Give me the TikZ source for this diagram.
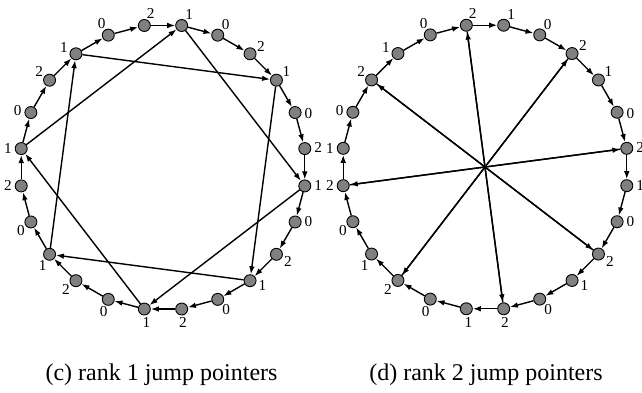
\documentclass[tikz,border=0pt]{standalone}
\usepackage{fontspec}
\setmainfont{Liberation Serif}
\usetikzlibrary{positioning,arrows.meta,calc}

\tikzset{
  elem/.style={circle,draw,fill=gray,minimum size=6pt,inner sep=0pt,line width=0.45pt},
  lbl/.style={inner sep=0pt,font=\fontsize{7.6}{8}\selectfont},
  nxt/.style={-{Latex[length=4pt,width=2.8pt]},line width=0.7pt},
  captxt/.style={inner sep=0pt,font=\fontsize{12}{14}\selectfont}
}

\begin{document}
\begin{tikzpicture}[x=0.5pt,y=0.5pt]
  \useasboundingbox (0,0) rectangle (642,392);

  \coordinate (cc) at (163,224.75);
  \coordinate (dc) at (485,225);

  % the two lists, same labels, label directions set by hand
  \foreach \i/\la in {0/62,1/56,2/53,3/35,4/42,5/-5,6/5,7/0,8/0,9/-32,10/-23,11/-51,
                      12/-85,13/-81,14/-110,15/-139,16/-121,17/-138,18/180,19/180,
                      20/172,21/141,22/153,23/120} {
    \pgfmathtruncatemacro{\lab}{2-mod(\i,3)}
    \node[elem] (c\i) at ($(cc)+({97.5-15*\i}:143)$) {};
    \node[lbl] (lc\i) at ($(c\i)+(\la:6.7pt)$) {\lab};
    \node[elem] (d\i) at ($(dc)+({97.5-15*\i}:143)$) {};
    \node[lbl] (ld\i) at ($(d\i)+(\la:6.7pt)$) {\lab};
  }

  % next pointers
  \foreach \i in {0,...,23} {
    \pgfmathtruncatemacro{\j}{mod(\i+1,24)}
    \draw[nxt] (c\i) -- (c\j);
    \draw[nxt] (d\i) -- (d\j);
  }

  % rank 1 jumps
  \foreach \i in {1,4,...,22} {
    \pgfmathtruncatemacro{\j}{mod(\i+6,24)}
    \draw[nxt] (c\i) -- (c\j);
  }

  % rank 2 jumps
  \foreach \i in {0,3,...,21} {
    \pgfmathtruncatemacro{\j}{mod(\i+12,24)}
    \draw[nxt] (d\i) -- (d\j);
  }

  \node[captxt] (capc) at (161.5,17) {(c) rank 1 jump pointers};
  \node[captxt] (capd) at (486,17) {(d) rank 2 jump pointers};

\end{tikzpicture}
\end{document}
